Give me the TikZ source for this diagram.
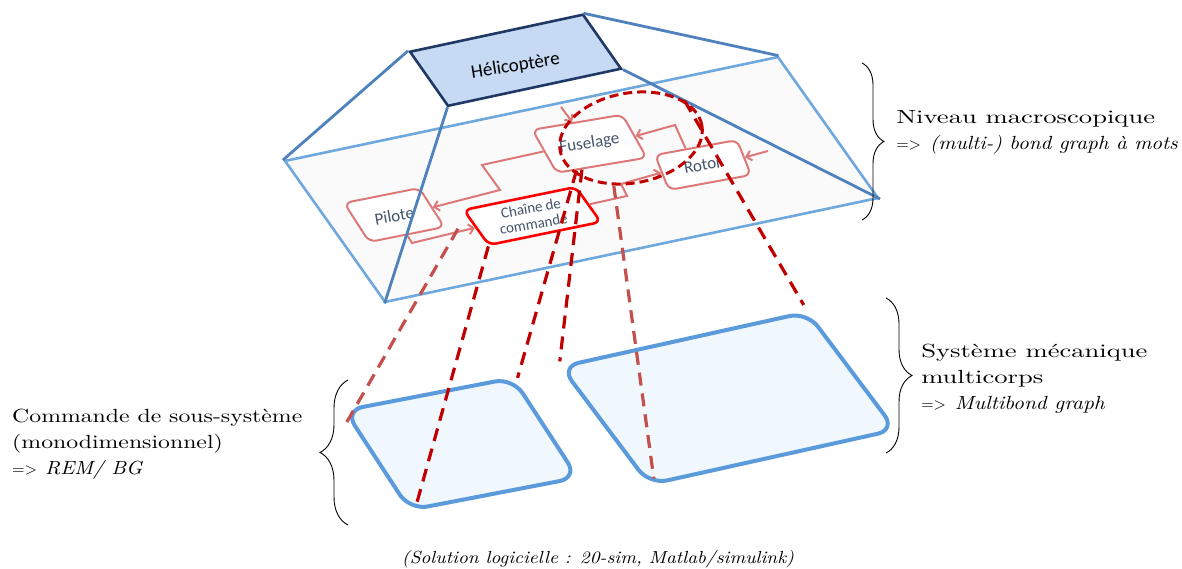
\documentclass[tikz,border=0pt]{standalone}
\usepackage{graphicx}
\usepackage{fontspec}
\setmainfont{lmroman10-regular}[Extension=.otf,ItalicFont=lmroman10-italic,BoldFont=lmroman10-bold]
\newfontfamily\boxfont{Carlito}
\usetikzlibrary{arrows.meta,positioning,shapes.geometric,calc,decorations.pathreplacing}
\definecolor{hpnavy}{RGB}{31,56,100}
\definecolor{hpfill}{RGB}{198,219,243}
\definecolor{hpedge}{RGB}{79,129,189}
\definecolor{hpplane}{RGB}{111,168,220}
\definecolor{hpsalmon}{RGB}{221,120,120}
\definecolor{hpred}{RGB}{255,0,0}
\definecolor{hpdark}{RGB}{192,0,0}
\definecolor{hplight}{RGB}{196,80,77}
\definecolor{hpsub}{RGB}{91,155,220}
\definecolor{hpsubfill}{RGB}{240,248,254}
\definecolor{hptext}{RGB}{68,84,106}
\newcommand\impl[1][0.8]{\scalebox{#1}[1]{\fontsize{16}{16}\selectfont=>}}
\newcommand\slim[2][0.88]{\scalebox{#1}[1]{\itshape #2}}

\begin{document}
\begin{tikzpicture}[x=1pt,y=-1pt,
  para/.style={rectangle,inner sep=0pt},
  blk/.style={para,draw=hpsalmon,line width=2pt,fill=white,rounded corners=7pt},
  blktxt/.style={text=hptext,inner sep=0pt,font=\boxfont\fontsize{17}{17}\selectfont},
  flow/.style={hpsalmon,line width=2pt,-{Straight Barb[length=5pt,width=10pt]}},
  link/.style={hpdark,line width=3.2pt,dash pattern=on 13pt off 8pt},
  linklt/.style={link,hplight},
  sub/.style={para,draw=hpsub,fill=hpsubfill,line width=4pt,rounded corners=18pt},
  pyr/.style={hpedge,line width=2.8pt},
  lbl/.style={inner sep=0pt,anchor=north west,align=left,xscale=1.25,font=\fontsize{19}{26}\selectfont},
  brc/.style={decorate,decoration={brace,amplitude=#1},line width=0.9pt}
]
  \useasboundingbox (0,0) rectangle (1182,569);

  % plan macroscopique et boite du haut
  \node[para,draw=hpplane,fill=black!2,line width=2.6pt,minimum width=503.8pt,minimum height=158.6pt,
    rotate=11.9,xslant=-0.434] (plane) at (581.5,179.5) {};
  \node[para,draw=hpnavy,fill=hpfill,line width=2.6pt,minimum width=176.9pt,minimum height=60.8pt,
    rotate=12.1,xslant=-0.424] (heli) at (515.5,60.25) {};
  \node[inner sep=0pt,rotate=9,font=\boxfont\fontsize{19}{19}\selectfont] (helit) at ($(heli.center)+(0,6)$) {Hélicoptère};

  % bond graph a mots
  \node[blk,minimum width=76.5pt,minimum height=43.1pt,rotate=11.3,xslant=-0.392] (pil) at (394.25,215) {};
  \node[blk,draw=hpred,line width=2.6pt,minimum width=114.3pt,minimum height=39.3pt,
    rotate=11.6,xslant=-0.445] (cha) at (532.25,216) {};
  \node[blk,minimum width=91.2pt,minimum height=46.4pt,rotate=9.5,xslant=-0.364] (fus) at (589.5,143.75) {};
  \node[blk,minimum width=83.4pt,minimum height=36.9pt,rotate=10.4,xslant=-0.2] (rot) at (703,165) {};
  \node[blktxt,rotate=10] (pilt) at ($(pil.center)+(0,1)$) {Pilote};
  \node[blktxt,rotate=10,align=center,font=\boxfont\fontsize{15}{16}\selectfont] (chat) at (cha.center) {Chaîne de\\commande};
  \node[blktxt,rotate=9] (fust) at (fus.center) {Fuselage};
  \node[blktxt,rotate=10] (rott) at (rot.center) {Rotor};

  \draw[flow] (fus.west) -- (482,165) -- (500,190) -- (pil.east);
  \draw[flow] (pil.south) -- (412,243) -- (cha.west);
  \draw[flow] (cha.east) -- (627,196) -- (621,184) -- (rot.west);
  \draw[flow] ($(rot.north west)!0.38!(rot.north east)$) -- (675,125) -- (fus.east);
  \coordinate (rin) at (768,151);
  \coordinate (fin) at (561,107);
  \draw[flow] (rin) -- (rot.east);
  \draw[flow] (fin) -- ($(fus.north west)!0.45!(fus.north east)$);

  % aretes de la pyramide
  \draw[pyr] (heli.north west) -- (plane.north west);
  \draw[pyr] (heli.south west) -- (plane.south west);
  \draw[pyr] (heli.north east) -- (plane.north east);
  \draw[pyr] (heli.south east) -- (plane.south east);

  \node[ellipse,draw=hpdark,line width=3pt,dash pattern=on 9pt off 5pt,minimum width=144pt,
    minimum height=90pt,inner sep=0pt,rotate=10] (zoom) at (631,138) {};

  % sous-systemes
  \node[sub,minimum width=171pt,minimum height=110pt,rotate=10.9,xslant=-0.408] (cmd) at (461.25,444) {};
  \node[sub,minimum width=252pt,minimum height=134pt,rotate=12.5,xslant=-0.454] (meca) at (728.25,398.25) {};

  \coordinate (cin) at ($(cha.west)+(-17,1)$);
  \draw[linklt] (cin) -- ($(cmd.north west)+(4,15)$);
  \draw[link] (cha.south west) -- ($(cmd.south west)+(7,-6)$);
  \draw[link] ($(fus.south west)!0.22!(fus.south east)$) -- ($(cmd.north east)+(4,2)$);
  \draw[link] ($(fus.south west)!0.28!(fus.south east)$) -- ($(meca.north west)+(2,-4)$);
  \draw[linklt] (zoom.240) -- ($(meca.south west)+(5,-8)$);
  \draw[link] (zoom.25) -- ($(meca.north east)+(-4,-5)$);

  % accolades et textes
  \draw[brc=22pt] (862,63) -- (862,220);
  \draw[brc=26pt] (886,298) -- (886,453);
  \draw[brc=28pt] (348,525) -- (348,380);
  \node[lbl,xscale=1.12] (macro) at (896,110)
    {Niveau macroscopique\\\impl[0.71]{} \slim[0.79]{(multi-) bond graph à mots}};
  \node[lbl,xscale=1.12] (multi) at (921,344)
    {Système mécanique\\multicorps\\\impl[0.71]{} \slim[0.8]{Multibond graph}};
  \node[lbl] (cmdtxt) at (12,409) {Commande de sous-système\\(monodimensionnel)\\\impl{} \slim{REM/ BG}};
  \node[lbl,anchor=base,font=\fontsize{17.5}{20}\selectfont] (soft) at (598,563)
    {\slim{(Solution logicielle : 20-sim, Matlab/simulink)}};
\end{tikzpicture}
\end{document}
